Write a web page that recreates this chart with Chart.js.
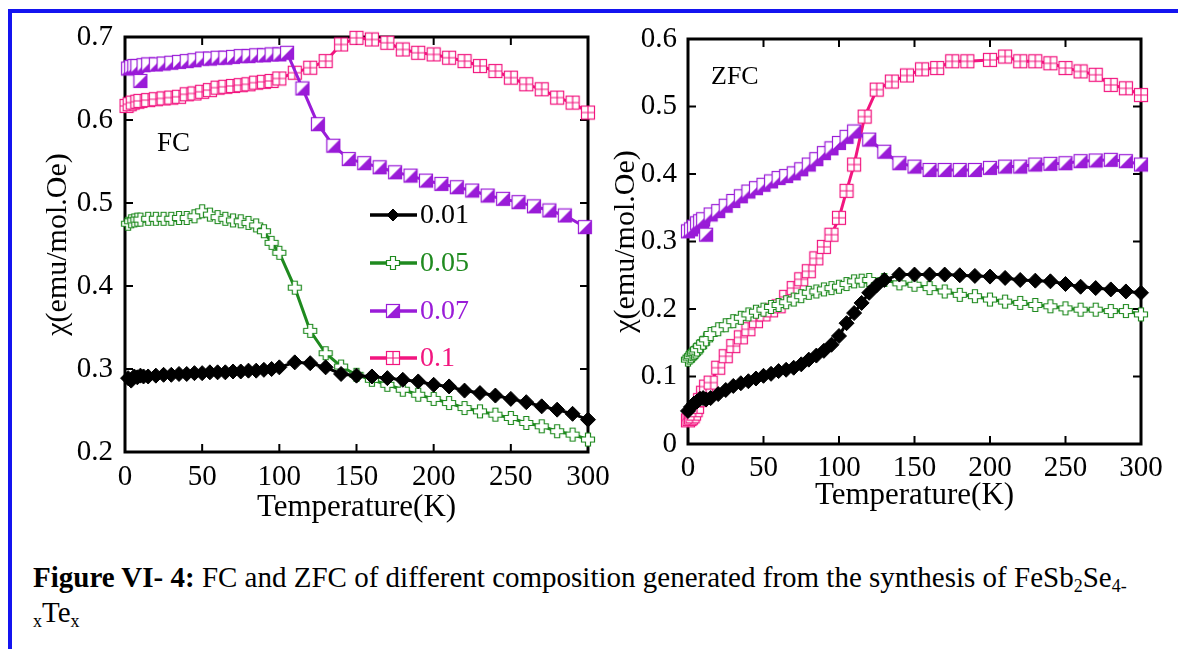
<!DOCTYPE html>
<html>
<head>
<meta charset="utf-8">
<script src="https://cdn.jsdelivr.net/npm/chart.js@4.4.0/dist/chart.umd.min.js"></script>
<style>
body{margin:0;background:#fff;width:1178px;height:649px;overflow:hidden;position:relative;font-family:"Liberation Serif",serif;}
#frameTop{position:absolute;left:8px;top:9px;width:1170px;height:4px;background:#1414f0;}
#frameLeft{position:absolute;left:8px;top:9px;width:4px;height:640px;background:#1414f0;}
canvas{position:absolute;top:0;}
#fcChart{left:0;}
#zfcChart{left:600px;}
.tag{position:absolute;font-size:27px;line-height:1;color:#000;}
#caption{position:absolute;left:33px;top:560px;font-size:29px;line-height:35px;white-space:nowrap;color:#000;}
#caption sub{font-size:0.62em;vertical-align:-0.3em;line-height:0;}
</style>
</head>
<body>
<div id="frameTop"></div>
<div id="frameLeft"></div>
<canvas id="fcChart" width="630" height="540"></canvas>
<canvas id="zfcChart" width="578" height="540"></canvas>
<div class="tag" style="left:157px;top:129px;">FC</div>
<div class="tag" style="left:711px;top:63px;font-size:26px;">ZFC</div>
<div id="caption"><b>Figure VI- 4:</b> FC and ZFC of different composition generated from the synthesis of FeSb<sub>2</sub>Se<sub>4-</sub><br><sub>x</sub>Te<sub>x</sub></div>
<script>
// SERIES
const seriesLabels = ['0.01','0.05','0.07','0.1'];
const seriesColors = ['#000000','#1f8a1f','#9a1cd8','#f2157f'];

// FC data
const fcT001 = [2,4,6,8,10,12,15,20,25,30,35,40,45,50,55,60,65,70,75,80,85,90,95,100,110,120,130,140,150,160,170,180,190,200,210,220,230,240,250,260,270,280,290,300];
const fcChi001 = [0.289,0.286,0.291,0.290,0.292,0.291,0.291,0.292,0.293,0.293,0.294,0.294,0.295,0.295,0.296,0.296,0.296,0.297,0.297,0.298,0.298,0.299,0.300,0.302,0.308,0.307,0.302,0.294,0.292,0.291,0.289,0.287,0.285,0.281,0.279,0.274,0.271,0.268,0.264,0.260,0.255,0.251,0.246,0.239];

const fcT005 = [2,4,6,8,10,15,20,25,30,35,40,45,50,55,60,65,70,75,80,85,90,95,100,110,120,130,140,150,160,170,180,190,200,210,220,230,240,250,260,270,280,290,300];
const fcChi005 = [0.475,0.478,0.479,0.480,0.480,0.481,0.481,0.481,0.481,0.482,0.482,0.484,0.490,0.486,0.483,0.481,0.479,0.478,0.476,0.473,0.466,0.452,0.440,0.398,0.346,0.319,0.303,0.293,0.287,0.281,0.275,0.269,0.264,0.259,0.253,0.249,0.245,0.241,0.235,0.231,0.225,0.221,0.215];

const fcT007 = [2,4,6,8,10,12,15,20,25,30,35,40,45,50,55,60,65,70,75,80,85,90,95,100,105,115,125,135,145,155,165,175,185,195,205,215,225,235,245,255,265,275,285,298];
const fcChi007 = [0.662,0.664,0.665,0.665,0.647,0.666,0.667,0.667,0.668,0.669,0.670,0.671,0.672,0.674,0.674,0.675,0.675,0.676,0.677,0.677,0.678,0.678,0.679,0.679,0.681,0.638,0.595,0.569,0.553,0.548,0.543,0.537,0.533,0.527,0.523,0.519,0.515,0.509,0.505,0.501,0.496,0.491,0.485,0.471];

const fcT01 = [1,3,5,8,10,15,20,25,30,35,40,45,50,55,60,65,70,75,80,85,90,95,100,110,120,130,140,150,160,170,180,190,200,210,220,230,240,250,260,270,280,290,300];
const fcChi01 = [0.617,0.619,0.621,0.622,0.623,0.624,0.625,0.626,0.627,0.628,0.631,0.632,0.634,0.636,0.639,0.640,0.641,0.642,0.643,0.645,0.646,0.647,0.650,0.657,0.663,0.671,0.691,0.699,0.697,0.693,0.685,0.681,0.679,0.675,0.671,0.665,0.659,0.651,0.643,0.637,0.627,0.621,0.609];

// ZFC data
const zfcT001 = [0,2,4,6,8,10,12,15,20,25,30,35,40,45,50,55,60,65,70,75,80,85,90,95,100,105,110,115,120,125,130,140,150,160,170,180,190,200,210,220,230,240,250,260,270,280,290,300];
const zfcChi001 = [0.049,0.055,0.060,0.063,0.067,0.068,0.066,0.068,0.074,0.080,0.086,0.090,0.093,0.097,0.101,0.104,0.108,0.110,0.113,0.118,0.125,0.131,0.138,0.147,0.160,0.179,0.194,0.209,0.224,0.235,0.243,0.251,0.251,0.251,0.251,0.250,0.249,0.248,0.246,0.243,0.242,0.241,0.237,0.233,0.231,0.229,0.226,0.224];

const zfcT005 = [0,1,2,3,4,5,6,8,10,12,15,20,25,30,35,40,45,50,55,60,65,70,75,80,85,90,95,100,105,110,115,120,130,140,150,160,170,180,190,200,210,220,230,240,250,260,270,280,290,300];
const zfcChi005 = [0.125,0.128,0.130,0.133,0.135,0.137,0.140,0.145,0.150,0.155,0.163,0.170,0.176,0.182,0.187,0.192,0.196,0.199,0.203,0.206,0.210,0.214,0.219,0.224,0.226,0.229,0.231,0.233,0.237,0.241,0.242,0.243,0.243,0.238,0.236,0.231,0.226,0.221,0.219,0.214,0.211,0.209,0.206,0.204,0.201,0.199,0.199,0.197,0.197,0.192];

const zfcT007 = [0,2,4,6,8,10,12,15,20,25,30,35,40,45,50,55,60,65,70,75,80,85,90,95,100,105,110,120,130,140,150,160,170,180,190,200,210,220,230,240,250,260,270,280,290,300];
const zfcChi007 = [0.315,0.318,0.322,0.327,0.330,0.333,0.310,0.340,0.345,0.353,0.360,0.367,0.374,0.379,0.384,0.389,0.394,0.397,0.401,0.407,0.414,0.422,0.431,0.438,0.446,0.455,0.463,0.451,0.433,0.416,0.411,0.406,0.406,0.406,0.406,0.409,0.411,0.411,0.414,0.415,0.416,0.419,0.420,0.421,0.419,0.414];

const zfcT01 = [0,1,2,3,4,5,6,8,10,12,15,20,25,30,35,40,45,50,55,60,65,70,75,80,85,90,95,100,105,110,117,125,135,145,155,165,175,185,200,210,220,230,240,250,260,270,280,290,300];
const zfcChi01 = [0.035,0.037,0.039,0.041,0.045,0.050,0.055,0.065,0.076,0.085,0.091,0.113,0.130,0.145,0.158,0.170,0.182,0.192,0.198,0.204,0.218,0.231,0.244,0.256,0.275,0.292,0.310,0.335,0.375,0.414,0.485,0.525,0.537,0.546,0.555,0.557,0.567,0.567,0.569,0.574,0.567,0.567,0.564,0.557,0.552,0.547,0.532,0.527,0.517];

const xTicks = [0,50,100,150,200,250,300];
const FONT = '"Liberation Serif", "Times New Roman", serif';

// MARKERS
function markerCanvas(kind, color){
    const c = document.createElement('canvas');
    c.width = 16; c.height = 16;
    const g = c.getContext('2d');
    g.lineWidth = 1.2;
    g.strokeStyle = color;
    g.fillStyle = '#fff';
    if(kind==='cross'){
        const a=1.5, b=5.5, e=10.5, d=14.5;
        g.beginPath();
        g.moveTo(b,a); g.lineTo(e,a); g.lineTo(e,b); g.lineTo(d,b); g.lineTo(d,e); g.lineTo(e,e);
        g.lineTo(e,d); g.lineTo(b,d); g.lineTo(b,e); g.lineTo(a,e); g.lineTo(a,b); g.lineTo(b,b);
        g.closePath(); g.fill(); g.stroke();
    } else if(kind==='half'){
        g.fillRect(1.5,1.5,13,13);
        g.fillStyle = color;
        g.beginPath(); g.moveTo(14.5,1.5); g.lineTo(14.5,14.5); g.lineTo(1.5,14.5); g.closePath(); g.fill();
        g.strokeRect(1.5,1.5,13,13);
    } else {
        g.fillRect(1.5,1.5,13,13);
        g.strokeRect(1.5,1.5,13,13);
        g.beginPath(); g.moveTo(8,1.5); g.lineTo(8,14.5); g.moveTo(1.5,8); g.lineTo(14.5,8); g.stroke();
    }
    return c;
}
const markers = ['rectRot', markerCanvas('cross',seriesColors[1]), markerCanvas('half',seriesColors[2]), markerCanvas('box',seriesColors[3])];

function toPoints(xs, ys){ return xs.map((x,i)=>({x:x, y:ys[i]})); }

function makeDatasets(groups){
    return groups.map((g,i)=>({
        label: seriesLabels[i],
        data: toPoints(g[0], g[1]),
        borderColor: seriesColors[i],
        backgroundColor: seriesColors[i],
        borderWidth: 3,
        pointStyle: markers[i],
        pointRadius: 7.5,
        pointHoverRadius: 7.5,
        pointBorderWidth: 1,
        tension: 0,
        clip: false
    }));
}

// FRAME + INWARD TICKS
const framePlugin = {
    id: 'frame',
    beforeDatasetsDraw(chart){
        const {ctx, chartArea:a, scales:{x, y}} = chart;
        ctx.save();
        ctx.strokeStyle = '#000';
        ctx.lineWidth = 2;
        ctx.beginPath();
        x.ticks.forEach(t=>{
            const px = x.getPixelForValue(t.value);
            ctx.moveTo(px, a.bottom); ctx.lineTo(px, a.bottom-8);
            ctx.moveTo(px, a.top); ctx.lineTo(px, a.top+8);
        });
        y.ticks.forEach(t=>{
            const py = y.getPixelForValue(t.value);
            ctx.moveTo(a.left, py); ctx.lineTo(a.left+8, py);
            ctx.moveTo(a.right, py); ctx.lineTo(a.right-8, py);
        });
        ctx.stroke();
        ctx.lineWidth = 3;
        ctx.strokeRect(a.left, a.top, a.right-a.left, a.bottom-a.top);
        ctx.restore();
    }
};

// LEGEND (inside FC plot)
const legendPlugin = {
    id: 'innerLegend',
    afterDatasetsDraw(chart){
        const ctx = chart.ctx;
        const rows = [215, 263, 311, 358];
        ctx.save();
        chart.data.datasets.forEach((ds,i)=>{
            const yy = rows[i];
            ctx.strokeStyle = ds.borderColor;
            ctx.lineWidth = 3.5;
            ctx.beginPath(); ctx.moveTo(370, yy); ctx.lineTo(417, yy); ctx.stroke();
            ctx.fillStyle = ds.backgroundColor;
            ctx.lineWidth = 1;
            Chart.helpers.drawPoint(ctx, {pointStyle: ds.pointStyle, radius: 6, borderWidth: 1, rotation: 0}, 393, yy);
            ctx.fillStyle = ds.borderColor;
            ctx.font = '28px ' + FONT;
            ctx.textBaseline = 'middle';
            ctx.textAlign = 'left';
            ctx.fillText(ds.label, 420, yy+1);
        });
        ctx.restore();
    }
};

function buildChart(id, groups, yMin, yMax, box, extraPlugins){
    return new Chart(document.getElementById(id), {
        type: 'line',
        data: { datasets: makeDatasets(groups) },
        options: {
            responsive: false,
            animation: false,
            devicePixelRatio: 1,
            layout: { padding: { left: box.padLeft, top: box.padTop, right: box.padRight, bottom: 0 } },
            plugins: { legend: {display:false}, tooltip: {enabled:false} },
            scales: {
                x: {
                    type: 'linear', min: 0, max: 300,
                    afterBuildTicks: s => { s.ticks = xTicks.map(v=>({value:v})); },
                    ticks: { color:'#000', font:{family:FONT, size:29}, padding: box.xTickPad, maxRotation:0 },
                    grid: { display:false, drawTicks:false },
                    border: { display:false },
                    title: { display:true, text:'Temperature(K)', color:'#000', font:{family:FONT, size:31}, padding:{top:0, bottom:box.xTitlePad} },
                    afterFit: s => { s.height = box.xHeight; }
                },
                y: {
                    min: yMin, max: yMax,
                    ticks: { stepSize:0.1, color:'#000', font:{family:FONT, size:29}, padding: box.yTickPad,
                             callback: v => Math.abs(v) < 1e-9 ? '0' : v.toFixed(1) },
                    grid: { display:false, drawTicks:false },
                    border: { display:false },
                    title: { display:true, text:'χ(emu/mol.Oe)', color:'#000', font:{family:FONT, size:30}, padding:{top:0, bottom:0} },
                    afterFit: s => { s.width = box.yWidth; }
                }
            }
        },
        plugins: [framePlugin].concat(extraPlugins)
    });
}

buildChart('fcChart',
    [[fcT001, fcChi001], [fcT005, fcChi005], [fcT007, fcChi007], [fcT01, fcChi01]],
    0.2, 0.7,
    {padLeft:40, padTop:37, padRight:42, yWidth:85, xHeight:88, xTickPad:8, xTitlePad:14, yTickPad:12},
    [legendPlugin]);

buildChart('zfcChart',
    [[zfcT001, zfcChi001], [zfcT005, zfcChi005], [zfcT007, zfcChi007], [zfcT01, zfcChi01]],
    0, 0.6,
    {padLeft:8, padTop:39, padRight:37, yWidth:80, xHeight:96, xTickPad:7, xTitlePad:26, yTickPad:11},
    []);
</script>
</body>
</html>
